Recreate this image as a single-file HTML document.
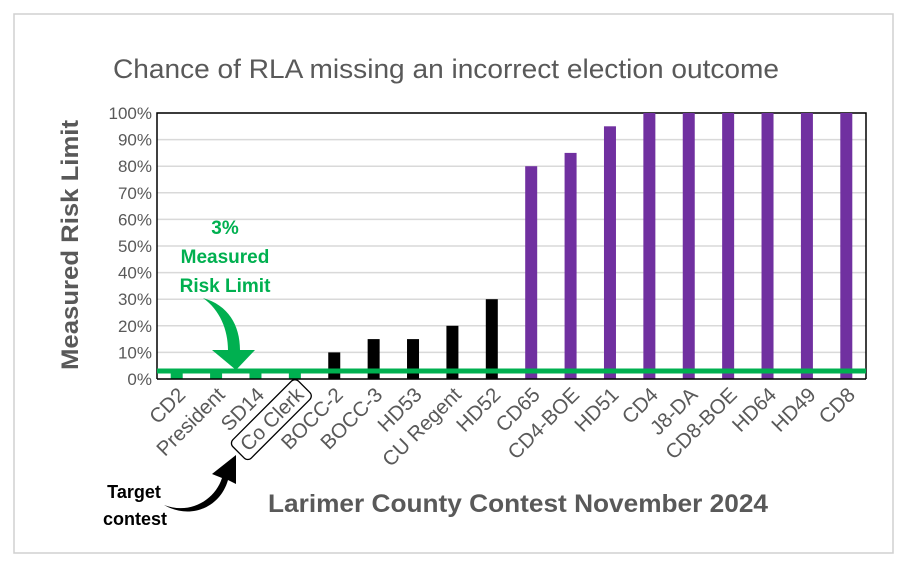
<!DOCTYPE html>
<html><head><meta charset="utf-8"><style>
body{margin:0;background:#fff;width:910px;height:581px;overflow:hidden;font-family:"Liberation Sans",sans-serif}
</style></head><body>
<svg id="chart" width="910" height="581">
<rect x="14" y="14" width="879" height="539" fill="#fff" stroke="#d0d0d0" stroke-width="1.5"/>
<text x="446" y="78" text-anchor="middle" font-size="27" fill="#595959" textLength="666" lengthAdjust="spacingAndGlyphs">Chance of RLA missing an incorrect election outcome</text>
<g id="grid"></g><g id="bars"></g><g id="xlabels"></g><g id="ylabels"></g>
<text transform="translate(78,245) rotate(-90)" text-anchor="middle" font-size="24" font-weight="bold" fill="#595959" textLength="250" lengthAdjust="spacingAndGlyphs">Measured Risk Limit</text>
<text x="518" y="512" text-anchor="middle" font-size="25" font-weight="bold" fill="#595959" textLength="500" lengthAdjust="spacingAndGlyphs">Larimer County Contest November 2024</text>
<g fill="#00b050" font-size="19" font-weight="bold" text-anchor="middle">
<text x="225" y="234">3%</text><text x="225" y="263">Measured</text><text x="225" y="292">Risk Limit</text></g>
<path d="M203,298 C228,305 240,325 240,350 L255,350 L236,370 L212,350 L228,350 C228,330 220,310 203,298 Z" fill="#00b050"/>
<text x="134" y="498" text-anchor="middle" font-size="18" font-weight="bold" fill="#000">Target</text>
<text x="135" y="525" text-anchor="middle" font-size="18" font-weight="bold" fill="#000">contest</text>
<path d="M164,505 C190,515 215,500 222,478 L212,474 L236,455 L236,484 L228,480 C220,508 190,520 164,505 Z" fill="#000"/>
</svg>
<script>
const categories=["CD2","President","SD14","Co Clerk","BOCC-2","BOCC-3","HD53","CU Regent","HD52","CD65","CD4-BOE","HD51","CD4","J8-DA","CD8-BOE","HD64","HD49","CD8"];
const values=[3,3,3,3,10,15,15,20,30,80,85,95,100,100,100,100,100,100];
const colorGroups=["g","g","g","g","k","k","k","k","k","p","p","p","p","p","p","p","p","p"];
const yTicks=[0,10,20,30,40,50,60,70,80,90,100];
const riskLimit=3;
const NS="http://www.w3.org/2000/svg";
const L=157,R=866,T=113,B=379;
const bw=(R-L)/categories.length;
const x=i=>L+bw*(i+0.5);
const y=v=>B-(v/100)*(B-T);
const colors={g:"#00b050",k:"#000",p:"#7030a0"};
function mk(tag,attrs,parent){const e=document.createElementNS(NS,tag);for(const k in attrs)e.setAttribute(k,attrs[k]);parent.appendChild(e);return e;}
const grid=document.getElementById('grid'),bars=document.getElementById('bars'),xl=document.getElementById('xlabels'),yl=document.getElementById('ylabels');
yTicks.forEach(t=>{
  const ln=mk('line',{x1:L,x2:R,y1:y(t),y2:y(t),stroke:'#d9d9d9','stroke-width':1.5},grid);
  
  
  const tx=mk('text',{x:L-5,y:y(t)+6,'text-anchor':'end','font-size':17,fill:'#595959'},yl);
  tx.textContent=t+'%';
  
  
});
const frame=mk('path',{d:`M${L},${B} L${L},${T} L${R},${T} L${R},${B}`,fill:'none',stroke:'#000','stroke-width':1.5},grid);


let boxLen=0;
categories.forEach((c,i)=>{
  const r=mk('rect',{x:x(i)-6,y:y(values[i]),width:12,height:B-y(values[i]),fill:colors[colorGroups[i]]},bars);
  
  
  const tx=mk('text',{transform:`translate(${x(i)+10},${B+17}) rotate(-45)`,'text-anchor':'end','font-size':20.5,fill:'#595959'},xl);
  tx.textContent=c;
  
  
  if(i===3) boxLen=tx.getComputedTextLength();
});
const ax=mk('line',{x1:L,x2:R,y1:B,y2:B,stroke:'#000','stroke-width':1.5},bars);


const rl=mk('line',{x1:L,x2:R,y1:y(riskLimit),y2:y(riskLimit),stroke:'#00b050','stroke-width':5},bars);


const ci=3;
const box=mk('rect',{x:-boxLen-7,y:-20,width:boxLen+13,height:26,rx:5,fill:'none',stroke:'#000','stroke-width':1.3,transform:`translate(${x(ci)+10},${B+17}) rotate(-45)`},xl);


</script>
</body></html>
